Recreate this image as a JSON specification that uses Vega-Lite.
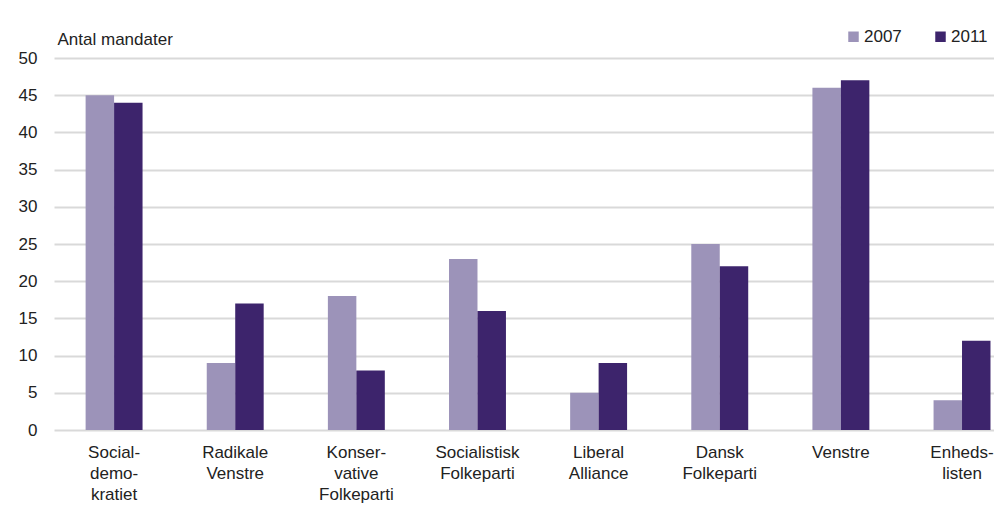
{
  "$schema": "https://vega.github.io/schema/vega-lite/v6.json",
  "autosize": {"type": "none"},
  "padding": {"left": 54, "top": 58, "right": 0, "bottom": 81},
  "width": 940,
  "height": 372,
  "background": "white",
  "data": {
    "values": [
      {"party": "Social-|demo-|kratiet", "order": 1, "year": "2007", "seats": 45},
      {"party": "Social-|demo-|kratiet", "order": 1, "year": "2011", "seats": 44},
      {"party": "Radikale|Venstre", "order": 2, "year": "2007", "seats": 9},
      {"party": "Radikale|Venstre", "order": 2, "year": "2011", "seats": 17},
      {"party": "Konser-|vative|Folkeparti", "order": 3, "year": "2007", "seats": 18},
      {"party": "Konser-|vative|Folkeparti", "order": 3, "year": "2011", "seats": 8},
      {"party": "Socialistisk|Folkeparti", "order": 4, "year": "2007", "seats": 23},
      {"party": "Socialistisk|Folkeparti", "order": 4, "year": "2011", "seats": 16},
      {"party": "Liberal|Alliance", "order": 5, "year": "2007", "seats": 5},
      {"party": "Liberal|Alliance", "order": 5, "year": "2011", "seats": 9},
      {"party": "Dansk|Folkeparti", "order": 6, "year": "2007", "seats": 25},
      {"party": "Dansk|Folkeparti", "order": 6, "year": "2011", "seats": 22},
      {"party": "Venstre", "order": 7, "year": "2007", "seats": 46},
      {"party": "Venstre", "order": 7, "year": "2011", "seats": 47},
      {"party": "Enheds-|listen", "order": 8, "year": "2007", "seats": 4},
      {"party": "Enheds-|listen", "order": 8, "year": "2011", "seats": 12}
    ]
  },
  "mark": {"type": "bar", "clip": false},
  "encoding": {
    "x": {
      "field": "party",
      "type": "nominal",
      "sort": {"field": "order"},
      "scale": {"paddingInner": 0.53, "paddingOuter": 0.145, "align": 0.9},
      "axis": {
        "title": null,
        "labelAngle": 0,
        "labelExpr": "split(datum.label, '|')",
        "labelLineHeight": 21,
        "labelPadding": 14,
        "labelFont": "Liberation Sans",
        "labelFontSize": 17,
        "labelColor": "#222222",
        "ticks": false,
        "domain": false,
        "labelBaseline": "top"
      }
    },
    "xOffset": {"field": "year", "type": "nominal", "scale": {"paddingInner": 0, "paddingOuter": 0}},
    "y": {
      "field": "seats",
      "type": "quantitative",
      "scale": {"domain": [0, 50]},
      "axis": {
        "title": "Antal mandater",
        "titleAngle": 0,
        "titleX": 3,
        "titleY": -14,
        "titleAlign": "left",
        "titleBaseline": "alphabetic",
        "titleFont": "Liberation Sans",
        "titleFontSize": 17,
        "titleFontWeight": "normal",
        "titleColor": "#222222",
        "values": [0, 5, 10, 15, 20, 25, 30, 35, 40, 45, 50],
        "labelFont": "Liberation Sans",
        "labelFontSize": 17,
        "labelColor": "#222222",
        "labelPadding": 17,
        "ticks": false,
        "domain": false,
        "gridColor": "#d9d9d9",
        "gridWidth": 2
      }
    },
    "color": {
      "field": "year",
      "type": "nominal",
      "scale": {"domain": ["2007", "2011"], "range": ["#9c93b9", "#3d246c"]},
      "legend": {
        "title": null,
        "orient": "none",
        "legendX": 791,
        "legendY": -30,
        "direction": "horizontal",
        "symbolType": "square",
        "symbolSize": 110,
        "symbolStrokeWidth": 0,
        "labelFont": "Liberation Sans",
        "labelFontSize": 17,
        "labelColor": "#222222",
        "labelOffset": 2,
        "columnPadding": 30
      }
    }
  },
  "config": {"view": {"stroke": null}}
}
